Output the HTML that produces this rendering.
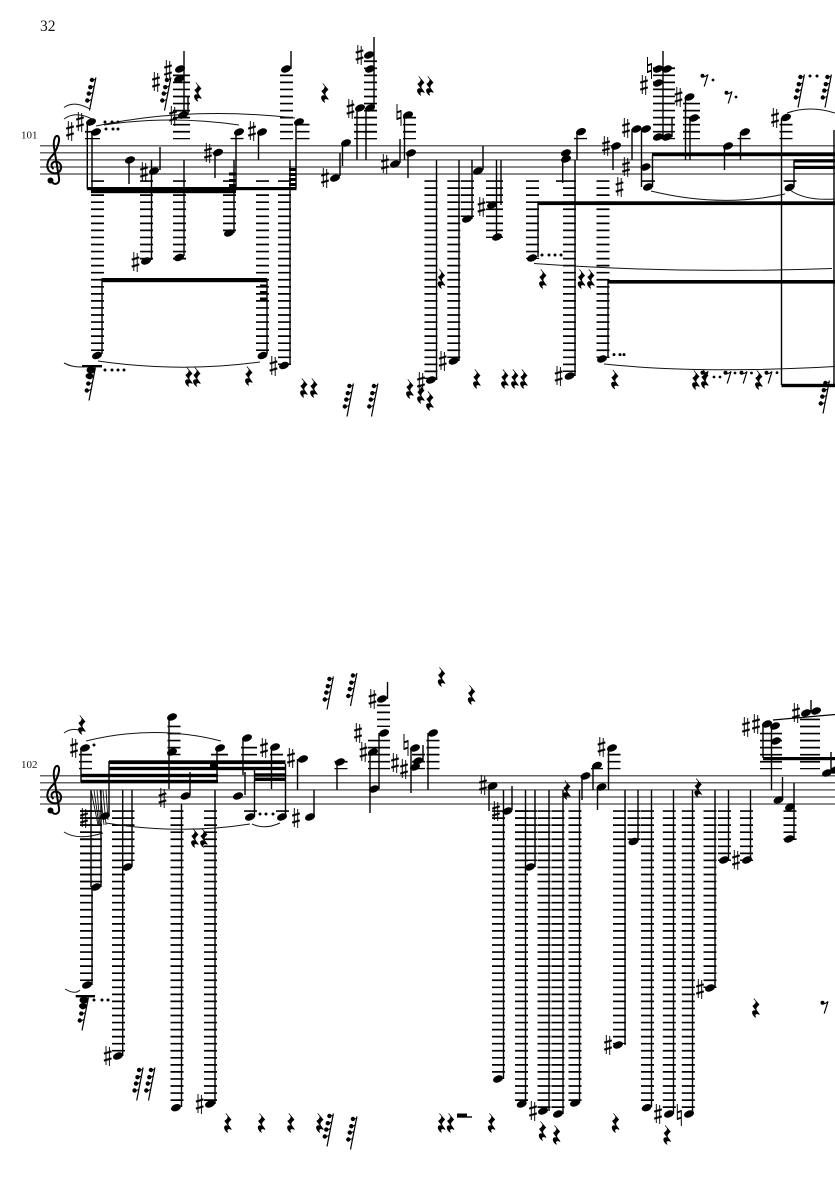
<!DOCTYPE html>
<html><head><meta charset="utf-8"><style>
html,body{margin:0;padding:0;background:#fff}
svg{display:block;position:absolute;left:0;top:0}
.t{font-family:"Liberation Serif",serif;fill:#111}
.sl{stroke:#666;stroke-width:1.5;fill:none}
.st{stroke:#000;stroke-width:1.4;fill:none}
.sr{stroke:#111;stroke-width:1;fill:none}
.l path{stroke:#000;fill:none;stroke-dasharray:1.7 5.35}
</style></head><body>
<svg width="835" height="1181" viewBox="0 0 835 1181" xmlns="http://www.w3.org/2000/svg">
<defs>
<ellipse id="n" cx="0" cy="0" rx="5.2" ry="3.4" transform="rotate(-22)"/>
<g id="s"><path d="M-1.7-10V9M1.7-9V10" stroke="#000" stroke-width=".95" fill="none"/><path d="M-3.8-2.4L3.8-4.6M-3.8 4.6L3.8 2.4" stroke="#000" stroke-width="2.1" fill="none"/></g>
<g id="h"><path d="M-2-11V5M2-5V11" stroke="#000" stroke-width="1" fill="none"/><path d="M-2-2.6L2-4M-2 4L2 2.6" stroke="#000" stroke-width="1.9" fill="none"/></g>
<path id="r" stroke="#000" stroke-width=".7" d="M-2.2-9.5L3-3.4C1-1.5-.6 0 .2 2L3.4 6.5C1 5.3-1.2 5.6-1 7.6-.9 8.4-.5 9-.1 9.5-2.5 8.2-4.3 5-3.2 3.3-2.4 2.2-.6 2.4.8 3.4L-3.2-2C-1-3.2.6-5.6-.2-7.2Z"/>
<g id="e"><circle cx="-2.5" cy="-4.2" r="2"/><path d="M-3-3.4Q0-2.6 3-5.5L-.8 6.5" stroke="#000" stroke-width="1.2" fill="none"/></g>
<g id="f"><path d="M3.4-16.5L-3 16.5" stroke="#000" stroke-width="1.2" fill="none"/><circle cx="-.6" cy="-14" r="2.2"/><circle cx="-2.2" cy="-6.8" r="2.2"/><circle cx="-3.7" cy="-.4" r="2.2"/><circle cx="-5.2" cy="6.5" r="2.2"/><path d="M-.6-13L3-15M-2.2-6L1.6-8M-3.7.4L.4-1.5M-5.2 7.3L-1 5.5" stroke="#000" stroke-width="1" fill="none"/></g>
<g id="c"><path d="M51.5 181.5C55 186 60 183.5 59 178L54 147C53 140 55.5 134.5 58 136.2 61 139 57 151 51 157 45.5 163 46 172 54 173.3 61.5 174 63.5 165 58 162 53 160 49 165 53.5 169" fill="none" stroke="#000" stroke-width="2"/><circle cx="50.5" cy="180.5" r="3"/></g>
</defs>
<rect width="835" height="1181" fill="#fff"/>
<text class="t" x="40" y="31" font-size="15.5">32</text>
<text class="t" x="21" y="138.5" font-size="11">101</text>
<text class="t" x="21" y="768" font-size="11">102</text>

<!-- staves -->
<path class="sl" d="M40 145.7H835M40 152.8H835M40 159.9H835M40 167H835M40 174H835M40 775.7H835M40 782.8H835M40 789.9H835M40 797H835M40 804H835"/>
<use href="#c"/><use href="#c" y="630"/>

<!-- ledgers -->
<g class="l">
<path stroke-width="13" d="M97.5 180.2V351M146.5 180.2V259.5M179.5 180.2V259.5M229.5 180.2V231.5M262.5 180.2V351M284.5 180.2V365M431 180.2V379M453.8 180.2V358M467.5 180.2V217M532.5 180.2V259M569.5 180.2V372M603 180.2V358M648.5 180.2V182M790 180.2V182M562.5 180.2V182M286.5 74.5V139.3M370.5 60.4V139.3M409.5 116.8V139.3M237 137.9V139.3M303 123.8V139.3M580.5 137.9V139.3M744 137.9V139.3M786 123.8V139.3"/>
<path stroke-width="17" d="M494.5 180.2V238M181.5 74.5V139.3M691.5 102.7V139.3"/>
<path stroke-width="23" d="M365.5 116.8V139.3"/>
<path stroke-width="15" d="M92.5 130.9V139.3"/>
<path stroke-width="22" d="M664 67.4V139.3"/>
<path stroke-width="13" d="M86.5 810.2V981M118.5 810.2V1051.5M177 810.2V1101M210.5 810.2V1101M250.5 810.2V812M282.5 810.2V812M498.5 810.2V1073M521.5 810.2V1101M544 810.2V1108M558 810.2V1108M575 810.2V1101M619.5 810.2V1044M634 810.2V840M647.5 810.2V1101M669.3 810.2V1108M688.3 810.2V1108M710 810.2V988M724.5 810.2V861M746.5 810.2V861M790 810.2V840M174 725.6V755.2M276.5 753.8V769.3M341 760.9V769.3M383.5 704.5V727M418.5 753.8V769.3M433 739.7V769.3M614 753.8V769.3M85.5 753.8V769.3"/>
<path stroke-width="22" d="M91 810.2V883M526 810.2V861M379 739.7V769.3M771 732.7V769.3"/>
<path stroke-width="10" d="M129.5 810.2V861"/>
<path stroke-width="17" d="M219.5 753.8V769.3"/>
<path stroke-width="16" d="M249 746.8V762.3"/>
<path stroke-width="20" d="M810 718.6V769.3"/>
<path stroke-width="12" d="M597 767.9V769.3"/>
</g>

<!-- stems staff 1 -->
<path class="st" d="M87.3 124V189M92 133V189M102 280V354M129 160V184M160 147V170M151.5 160V260M184 160V256M188 97V115M184 51V115M236 133V187M234 160V233M215 153V178M258.5 133V160M291 51V69M290 160V365M296 122V188M267 280V354M340 153V176M342.5 143V166M374 37V108M357 108V160M366 108V160M400 139V163M404.5 115V160M408 153V178M436.5 160V380M459 160V361M483 146V170M472 160V219M496.5 160V237M501 160V205M562.7 157V183M538 203V257M575 160V376M577 132V160M608 280V358M613 147V170M632 129V160M641.5 129V187M652.5 155V187M663 51V137M672 118V137M685.5 97V160M690 118V160M724.5 147V170M740.5 132V160M781.5 118V385M794 160V187M834 130V385"/>
<!-- stems staff 2 -->
<path class="st" d="M81 748V782M109 761V814M122.7 790V1056M132 790V867M91 790V887M101 790V887M92 887V985M254.5 770V817M285.5 764V817M169 717V789M190 772V795M181.5 804V1107M215 790V1104M217 748V783M245 772V795M243 738V775M271.5 747V789M297.5 759V790M314 790V816M337 762V790M370 752V813M379 733V789M387.5 682V699M411 748V793M423 745V761M428 733V790M489 786V811M512 786V810M503.5 790V1079M525.5 790V1104M535 790V867M549 790V1111M563 790V1114M579.5 790V1103M582 777V800M593 766V790M597.5 787V810M608.5 748V790M625 790V1045M638 790V841M651.5 790V1107M673.5 790V1114M692.5 790V1114M715 790V988M728.5 790V860M750.5 790V860M782.5 777V799M794 783V839M771.5 725V790M763 724V758M811 700V712M831 752V770"/>
<path d="M91 790L98 825M94 790L99 825M97 790L100 825M100 790L104 825M103 790L106 825M106 790L108 820" stroke="#111" stroke-width=".9" fill="none"/>

<!-- beams -->
<g>
<rect x="87" y="187" width="209.5" height="3.2"/><rect x="91" y="187" width="145" height="6.2"/>
<rect x="229" y="172.5" width="7" height="3"/><rect x="229" y="179" width="7" height="3"/><rect x="229" y="184" width="7" height="3"/>
<rect x="289" y="168" width="7" height="3"/><rect x="289" y="173" width="7" height="3"/><rect x="289" y="178" width="7" height="3"/><rect x="289" y="183" width="7" height="3"/>
<rect x="101.5" y="278" width="165.5" height="4.2"/>
<rect x="260" y="284.5" width="7" height="3"/><rect x="260" y="291" width="7" height="3"/><rect x="260" y="297.5" width="7" height="3.5"/>
<rect x="537.5" y="201.3" width="297.5" height="3.8"/>
<rect x="607.5" y="280" width="227.5" height="3.6"/>
<rect x="652" y="152.8" width="183" height="3.4"/><rect x="793.5" y="159.3" width="41.5" height="3.2"/><rect x="793.5" y="165.8" width="41.5" height="3.2"/>
<rect x="781.5" y="383.8" width="53.5" height="3.4"/>
<rect x="81" y="773.8" width="137" height="3.4"/><rect x="81" y="779.8" width="137" height="3.4"/>
<rect x="109" y="760.3" width="176.5" height="3.8"/><rect x="109" y="766.8" width="176.5" height="3.4"/>
<rect x="210" y="763.5" width="8" height="6"/>
<rect x="254.5" y="773.3" width="31" height="3.4"/><rect x="254.5" y="777.6" width="31" height="3.4"/>
<rect x="763" y="757" width="72" height="3.2"/>
<path d="M773 720L835 714.5" stroke="#000" stroke-width="1.2" fill="none"/>
<rect x="75.7" y="995" width="19.3" height="2.4"/><rect x="82" y="365" width="20" height="2.4"/>
<rect x="457" y="1113.5" width="10" height="3"/><rect x="457" y="1116.3" width="15" height="1.4"/>
<ellipse cx="91" cy="370" rx="4.5" ry="3.5"/><ellipse cx="89.5" cy="376" rx="4" ry="3"/><ellipse cx="84" cy="1000" rx="4.5" ry="3.5"/><ellipse cx="83" cy="1006" rx="4" ry="3"/>
</g>

<!-- noteheads -->
<g>
<use href="#n" x="91" y="122"/><use href="#n" x="96" y="132"/><use href="#n" x="97" y="355.5"/><use href="#n" x="130" y="160"/><use href="#n" x="154" y="171"/><use href="#n" x="146" y="261"/><use href="#n" x="179" y="257.5"/><use href="#n" x="183" y="115"/><use href="#n" x="180" y="69"/><use href="#n" x="179" y="79"/><use href="#n" x="239" y="132"/><use href="#n" x="229" y="233"/><use href="#n" x="218" y="152.5"/><use href="#n" x="262" y="132"/><use href="#n" x="286" y="69"/><use href="#n" x="299" y="122"/><use href="#n" x="284" y="365.5"/><use href="#n" x="262.5" y="355.5"/>
<use href="#n" x="335" y="178"/><use href="#n" x="346" y="143"/><use href="#n" x="369" y="55"/><use href="#n" x="370" y="69"/><use href="#n" x="360" y="108"/><use href="#n" x="370" y="108"/><use href="#n" x="395" y="164"/><use href="#n" x="408" y="115"/><use href="#n" x="411" y="153"/><use href="#n" x="431" y="380"/><use href="#n" x="453.6" y="361"/><use href="#n" x="478" y="171"/><use href="#n" x="467" y="219"/><use href="#n" x="497" y="237"/><use href="#n" x="492" y="205"/><use href="#n" x="566" y="153"/><use href="#n" x="566" y="159"/><use href="#n" x="532" y="258"/><use href="#n" x="569.6" y="376"/><use href="#n" x="602" y="359"/>
<use href="#n" x="581" y="131.7"/><use href="#n" x="616" y="146"/><use href="#n" x="636.5" y="129"/><use href="#n" x="646" y="129"/><use href="#n" x="645.5" y="167"/><use href="#n" x="648" y="187"/><use href="#n" x="658" y="69"/><use href="#n" x="667" y="69"/><use href="#n" x="658" y="83"/><use href="#n" x="658" y="137"/><use href="#n" x="667" y="137"/><use href="#n" x="689.5" y="97"/><use href="#n" x="694" y="118"/><use href="#n" x="728" y="146"/><use href="#n" x="745" y="132"/><use href="#n" x="786" y="117.5"/><use href="#n" x="789.5" y="187.5"/>
<use href="#n" x="85" y="748"/><use href="#n" x="105" y="816"/><use href="#n" x="118" y="1056"/><use href="#n" x="127.5" y="867"/><use href="#n" x="96" y="887"/><use href="#n" x="87" y="985"/><use href="#n" x="250" y="817"/><use href="#n" x="282" y="817"/><use href="#n" x="172" y="717"/><use href="#n" x="172" y="752"/><use href="#n" x="185.5" y="796"/><use href="#n" x="176" y="1107.7"/><use href="#n" x="210" y="1104"/><use href="#n" x="220" y="748"/><use href="#n" x="238" y="796"/><use href="#n" x="247" y="738"/><use href="#n" x="275" y="747"/><use href="#n" x="303" y="759"/><use href="#n" x="310" y="817"/>
<use href="#n" x="340" y="762"/><use href="#n" x="374" y="789"/><use href="#n" x="373" y="752"/><use href="#n" x="384" y="733"/><use href="#n" x="382" y="699"/><use href="#n" x="415" y="767"/><use href="#n" x="418" y="761"/><use href="#n" x="415" y="748"/><use href="#n" x="433" y="733"/><use href="#n" x="492.5" y="786"/><use href="#n" x="507.5" y="811"/><use href="#n" x="498" y="1079"/><use href="#n" x="521.7" y="1104"/><use href="#n" x="530" y="867"/><use href="#n" x="543" y="1111"/><use href="#n" x="558" y="1114"/><use href="#n" x="575" y="1103"/>
<use href="#n" x="585.5" y="776"/><use href="#n" x="597" y="765.5"/><use href="#n" x="601.5" y="787"/><use href="#n" x="612" y="748"/><use href="#n" x="618" y="1045"/><use href="#n" x="633.5" y="841.5"/><use href="#n" x="646.7" y="1107.7"/><use href="#n" x="669" y="1114"/><use href="#n" x="689" y="1114"/><use href="#n" x="710" y="988"/><use href="#n" x="724" y="860"/><use href="#n" x="747" y="860"/><use href="#n" x="778.5" y="800"/><use href="#n" x="790" y="807"/><use href="#n" x="789" y="839"/><use href="#n" x="767" y="724"/><use href="#n" x="775" y="726"/><use href="#n" x="776" y="741"/><use href="#n" x="806" y="713"/><use href="#n" x="816" y="711"/><use href="#n" x="827" y="773"/><use href="#n" x="835" y="770"/>
</g>

<!-- accidentals -->
<g>
<use href="#s" x="70" y="131"/><use href="#s" x="80" y="122"/><use href="#s" x="144" y="172"/><use href="#s" x="135.5" y="262"/><use href="#s" x="173" y="116"/><use href="#s" x="156" y="82"/><use href="#s" x="168" y="70"/><use href="#s" x="208" y="153"/><use href="#s" x="252" y="131"/><use href="#s" x="273.5" y="366"/>
<use href="#s" x="325" y="178"/><use href="#s" x="359.5" y="55"/><use href="#s" x="350.5" y="109"/><use href="#s" x="385" y="164"/><use href="#s" x="421" y="382"/><use href="#s" x="442.7" y="361"/><use href="#s" x="481.5" y="207"/><use href="#s" x="558.7" y="376"/>
<use href="#s" x="606" y="146"/><use href="#s" x="626" y="128"/><use href="#s" x="626" y="167"/><use href="#s" x="619.5" y="187"/><use href="#s" x="644" y="85"/><use href="#s" x="678.5" y="97"/><use href="#s" x="775" y="118"/>
<use href="#s" x="74" y="748"/><use href="#s" x="84" y="818"/><use href="#s" x="107.7" y="1056"/><use href="#s" x="162.5" y="798"/><use href="#s" x="199.7" y="1104"/><use href="#s" x="264" y="748"/><use href="#s" x="291" y="758"/><use href="#s" x="296" y="818"/>
<use href="#s" x="363.5" y="752"/><use href="#s" x="358" y="733"/><use href="#s" x="372.5" y="699"/><use href="#s" x="395" y="763"/><use href="#s" x="404" y="769"/><use href="#s" x="483" y="785"/><use href="#s" x="496" y="811"/><use href="#s" x="533" y="1111"/>
<use href="#s" x="601.5" y="747"/><use href="#s" x="608" y="1045"/><use href="#s" x="658" y="1114"/><use href="#s" x="700" y="989"/><use href="#s" x="736" y="860"/><use href="#s" x="746" y="727"/><use href="#s" x="756" y="724"/><use href="#s" x="796" y="713"/>
<use href="#h" x="399" y="115"/><use href="#h" x="649.5" y="68"/><use href="#h" x="406" y="745"/><use href="#h" x="679.3" y="1115"/>
</g>

<!-- quarter rests -->
<g>
<use href="#r" x="198" y="92"/><use href="#r" x="325" y="93"/><use href="#r" x="421" y="86"/><use href="#r" x="430" y="86"/><use href="#r" x="189" y="377"/><use href="#r" x="197" y="377"/><use href="#r" x="249" y="376"/><use href="#r" x="304" y="388"/><use href="#r" x="314" y="388"/><use href="#r" x="410" y="389"/><use href="#r" x="421" y="394"/><use href="#r" x="430" y="401"/><use href="#r" x="441.6" y="279"/><use href="#r" x="477" y="379"/><use href="#r" x="505" y="379"/><use href="#r" x="515" y="379"/><use href="#r" x="524" y="379"/><use href="#r" x="543" y="279"/><use href="#r" x="581.6" y="279"/><use href="#r" x="591" y="279"/><use href="#r" x="615" y="379.5"/><use href="#r" x="696" y="380"/><use href="#r" x="705" y="379"/><use href="#r" x="759" y="380"/>
<use href="#r" x="82" y="725"/><use href="#r" x="195" y="838"/><use href="#r" x="204" y="838"/><use href="#r" x="441.7" y="677"/><use href="#r" x="471.7" y="695"/><use href="#r" x="567" y="790"/><use href="#r" x="698.3" y="788"/><use href="#r" x="756" y="1008"/>
<use href="#r" x="228" y="1123"/><use href="#r" x="261.7" y="1123"/><use href="#r" x="291" y="1123"/><use href="#r" x="320" y="1123"/><use href="#r" x="441.7" y="1123"/><use href="#r" x="450.7" y="1123"/><use href="#r" x="491.7" y="1123"/><use href="#r" x="542.7" y="1131"/><use href="#r" x="556.7" y="1135"/><use href="#r" x="615.7" y="1123"/><use href="#r" x="667.3" y="1135"/>
</g>

<!-- eighth rests -->
<g>
<use href="#e" x="705" y="80"/><use href="#e" x="729" y="97"/><use href="#e" x="705" y="377"/><use href="#e" x="728" y="377"/><use href="#e" x="744" y="377"/><use href="#e" x="769" y="377"/><use href="#e" x="825" y="1007"/>
<circle cx="713" cy="80" r="1.4"/><circle cx="736" cy="97" r="1.4"/><circle cx="714" cy="377" r="1.4"/><circle cx="720" cy="377" r="1.4"/><circle cx="735" cy="373" r="1.4"/><circle cx="751.5" cy="373" r="1.4"/><circle cx="777" cy="372.6" r="1.4"/>
</g>

<!-- 64th rests -->
<g>
<use href="#f" x="92.5" y="94"/><use href="#f" x="167.5" y="94"/><use href="#f" x="92" y="384"/><use href="#f" x="350" y="400"/><use href="#f" x="374.5" y="400"/><use href="#f" x="801" y="91"/><use href="#f" x="828" y="91"/><use href="#f" x="826" y="397"/><use href="#f" x="85" y="1014"/><use href="#f" x="139.7" y="1084"/><use href="#f" x="151.5" y="1084"/><use href="#f" x="330" y="1130"/><use href="#f" x="353.5" y="1133"/><use href="#f" x="330" y="693"/><use href="#f" x="353.5" y="689.5"/>
<circle cx="105" cy="122" r="1.5"/><circle cx="112" cy="122" r="1.5"/><circle cx="118" cy="122" r="1.5"/><circle cx="106" cy="129" r="1.5"/><circle cx="113" cy="129" r="1.5"/><circle cx="118" cy="129" r="1.5"/>
<circle cx="105" cy="370" r="1.5"/><circle cx="112" cy="370" r="1.5"/><circle cx="118" cy="370" r="1.5"/><circle cx="124" cy="370" r="1.5"/>
<circle cx="542" cy="255" r="1.5"/><circle cx="549" cy="255" r="1.5"/><circle cx="555" cy="255" r="1.5"/><circle cx="561" cy="255" r="1.5"/>
<circle cx="614" cy="354.6" r="1.5"/><circle cx="620" cy="354.6" r="1.5"/><circle cx="624" cy="354.6" r="1.5"/>
<circle cx="810" cy="76" r="1.5"/><circle cx="817" cy="76" r="1.5"/>
<circle cx="94" cy="745" r="1.5"/><circle cx="260" cy="814" r="1.5"/><circle cx="266" cy="814" r="1.5"/><circle cx="273" cy="814" r="1.5"/>
<circle cx="94" cy="1000" r="1.5"/><circle cx="102" cy="1000" r="1.5"/><circle cx="108" cy="1000" r="1.5"/>
</g>

<!-- slurs -->
<path class="sr" d="M64 107.5Q74 100 90 109M64 119Q76 110 94 120M96 126Q190 106 295 118M104 125Q170 115 239 125M98 361Q180 373 260 362M64 363Q75 369 90 366M534 263.5Q680 274 832 268.5M604 364Q700 374 835 366.5M651 191Q720 208 785 194M790 190Q805 201 835 199M787 113Q810 105 835 113M64 733Q72 727 82 731M64 832Q78 841 103 833M106 823Q180 835 250 824M252 824Q265 830 280 823M86 741Q155 724 221 741M65 989Q75 995 80 990"/>
</svg>
</body></html>
